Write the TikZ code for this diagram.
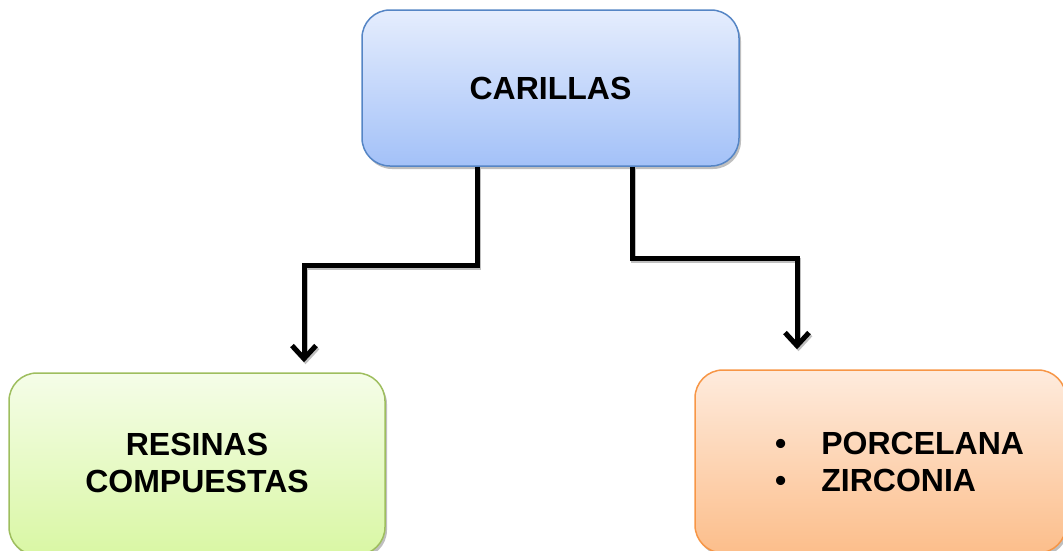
\documentclass[tikz,border=0pt]{standalone}
\usepackage{fontspec}
\setmainfont{Liberation Sans}
\usetikzlibrary{arrows.meta,shadows}
\definecolor{bluetop}{HTML}{E5EDFD}
\definecolor{bluebot}{HTML}{A3C1F8}
\definecolor{blueline}{HTML}{5585C5}
\definecolor{greentop}{HTML}{F5FDE8}
\definecolor{greenbot}{HTML}{D9F7A4}
\definecolor{greenline}{HTML}{9EBE5E}
\definecolor{orangetop}{HTML}{FEEBDD}
\definecolor{orangebot}{HTML}{FCBE8B}
\definecolor{orangeline}{HTML}{F79646}
\tikzset{
  box/.style={draw, line width=1.5pt, rounded corners=28pt, inner sep=0pt,
    drop shadow={shadow xshift=2pt, shadow yshift=-3pt, opacity=0.25, fill=black}},
  txt/.style={font=\fontsize{32}{37}\selectfont\bfseries, inner sep=0pt},
  tip/.style={-{Straight Barb[length=13pt,width=24pt]}},
  conn/.style={line width=5pt, line join=miter, tip,
    preaction={draw=black!25, line width=5pt, transform canvas={xshift=1.5pt,yshift=-2pt}, tip}}
}
\begin{document}
\begin{tikzpicture}[x=1pt,y=-1pt]
\useasboundingbox (0,0) rectangle (1063,550);
\clip (0,0) rectangle (1063,550);
\node[box, draw=blueline, top color=bluetop, bottom color=bluebot,
      minimum width=377pt, minimum height=156pt, txt] (top) at (550.5,88) {CARILLAS};
\node[box, draw=greenline, top color=greentop, bottom color=greenbot,
      minimum width=376pt, minimum height=182pt] (left) at (197,464) {};
\node[box, draw=orangeline, top color=orangetop, bottom color=orangebot,
      minimum width=371pt, minimum height=183pt] (right) at (880.5,461.5) {};
\node[txt, align=center] (restxt) at (197,463) {RESINAS\\COMPUESTAS};
\node[txt, align=left, anchor=west] (portxt) at (775,462)
  {•\hspace{35pt}PORCELANA\\•\hspace{35pt}ZIRCONIA};
\draw[conn] ([xshift=-73.5pt]top.south) -- ++(0,99) -| ([xshift=107pt,yshift=10pt]left.north);
\draw[conn] ([xshift=81.5pt]top.south) -- ++(0,92) -| ([xshift=-83.5pt,yshift=20pt]right.north);
\end{tikzpicture}
\end{document}
